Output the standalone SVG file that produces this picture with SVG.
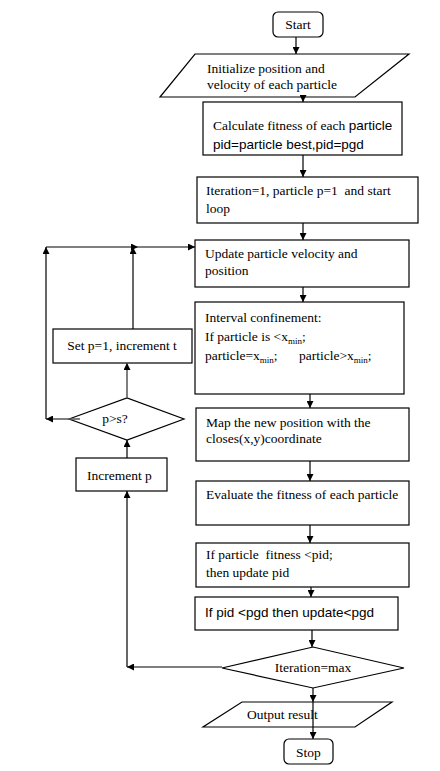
<svg xmlns="http://www.w3.org/2000/svg" width="440" height="771" viewBox="0 0 440 771">
<style>
.s{fill:#fff;stroke:#000;stroke-width:1.2}
.t{font-family:"Liberation Serif","Times New Roman",serif;font-size:13.5px;fill:#000}
.a{font-family:"Liberation Sans",Arial,sans-serif;font-size:13.5px;fill:#000}
.sub{font-size:9px}
.c{fill:none;stroke:#000;stroke-width:1.2}
.g{fill:none;stroke:#555;stroke-width:1.5}
</style>
<defs>
<marker id="ah" viewBox="0 0 10 10" refX="10" refY="5" markerWidth="8" markerHeight="7" markerUnits="userSpaceOnUse" orient="auto"><path d="M0,0 L10,5 L0,10 z" fill="#000"/></marker>
</defs>
<rect width="440" height="771" fill="#fff"/>
<g id="start"><rect class="s" x="273" y="12" width="50" height="25" rx="5"/><text class="t" x="298" y="29" text-anchor="middle">Start</text></g>
<g id="init"><polygon class="s" points="195,54 409,54 355,97 160,97"/><text class="t" x="207" y="73">Initialize position and</text><text class="t" x="207" y="89">velocity of each particle</text></g>
<g id="calc"><rect class="s" x="203" y="102" width="199" height="53"/><text class="t" x="213" y="130">Calculate fitness of each <tspan class="a" font-size="14px">particle</tspan></text><text class="a" x="213" y="149">pid=particle best,pid=pgd</text></g>
<g id="iter"><rect class="s" x="197" y="177" width="221" height="46"/><text class="t" x="206" y="195" xml:space="preserve">Iteration=1, particle p=1  and start</text><text class="t" x="206" y="213">loop</text></g>
<g id="update"><rect class="s" x="195" y="240" width="214" height="47"/><text class="t" x="205" y="258">Update particle velocity and</text><text class="t" x="205" y="275">position</text></g>
<g id="interval"><rect class="s" x="195" y="302" width="209" height="92"/><text class="t" x="205" y="322">Interval confinement:</text><text class="t" x="205" y="341">If particle is &lt;x<tspan class="sub" dy="3">min</tspan><tspan dy="-3">;</tspan></text><text class="t" x="205" y="360">particle=x<tspan class="sub" dy="3">min</tspan><tspan dy="-3">;</tspan></text><text class="t" x="299" y="360">particle&gt;x<tspan class="sub" dy="3">min</tspan><tspan dy="-3">;</tspan></text></g>
<g id="map"><rect class="s" x="196" y="408" width="213" height="53"/><text class="t" x="206" y="427">Map the new position with the</text><text class="t" x="206" y="443">closes(x,y)coordinate</text></g>
<g id="evaluate"><rect class="s" x="196" y="481" width="213" height="44"/><text class="t" x="206" y="499">Evaluate the fitness of each particle</text></g>
<g id="pid"><rect class="s" x="196" y="543" width="213" height="44"/><text class="t" x="206" y="559" xml:space="preserve">If particle  fitness &lt;pid;</text><text class="t" x="206" y="577">then update pid</text></g>
<g id="pgd"><rect class="s" x="195" y="597" width="203" height="33"/><text class="a" x="205" y="617">If pid &lt;pgd then update&lt;pgd</text></g>
<g id="itermax"><polygon class="s" points="222,668 313,647 404,668 313,688"/><text class="t" x="313" y="672" text-anchor="middle">Iteration=max</text></g>
<g id="output"><polygon class="s" points="242,702 392,702 355,727 203,727"/><text class="t" x="247" y="719">Output result</text></g>
<g id="stop"><rect class="s" x="284" y="739" width="49" height="25" rx="5"/><text class="t" x="308.5" y="757" text-anchor="middle">Stop</text></g>
<g id="setp"><rect class="s" x="53" y="329" width="139" height="34"/><text class="t" x="122" y="350" text-anchor="middle">Set p=1, increment t</text></g>
<g id="pgs"><polygon class="s" points="69,419 127,398 184,419 127,440"/><text class="t" x="115" y="423" text-anchor="middle">p&gt;s?</text></g>
<g id="incp"><rect class="s" x="76" y="458" width="91" height="33"/><text class="t" x="87" y="480">Increment p</text></g>
<g id="connectors">
<line class="c" x1="296" y1="37" x2="296" y2="54" marker-end="url(#ah)"/>
<line class="c" x1="303" y1="97" x2="303" y2="102" marker-end="url(#ah)"/>
<line class="c" x1="303" y1="155" x2="303" y2="177" marker-end="url(#ah)"/>
<line class="c" x1="303" y1="223" x2="303" y2="240" marker-end="url(#ah)"/>
<line class="c" x1="303" y1="287" x2="303" y2="302" marker-end="url(#ah)"/>
<line class="c" x1="310" y1="394" x2="310" y2="408" marker-end="url(#ah)"/>
<line class="c" x1="310" y1="461" x2="310" y2="481" marker-end="url(#ah)"/>
<line class="c" x1="310" y1="525" x2="310" y2="543" marker-end="url(#ah)"/>
<line class="c" x1="311" y1="587" x2="311" y2="597" marker-end="url(#ah)"/>
<line class="c" x1="312" y1="630" x2="312" y2="647" marker-end="url(#ah)"/>
<line class="c" x1="313" y1="688" x2="313" y2="702" marker-end="url(#ah)"/>
<line class="c" x1="313" y1="702" x2="313" y2="739" marker-end="url(#ah)"/>
<line class="c" x1="222" y1="667" x2="127" y2="667" marker-end="url(#ah)"/>
<line class="c" x1="127" y1="667" x2="127" y2="491" marker-end="url(#ah)"/>
<line class="c" x1="127" y1="458" x2="127" y2="440" marker-end="url(#ah)"/>
<line class="g" x1="127" y1="398" x2="127" y2="363" marker-end="url(#ah)"/>
<line class="c" x1="133" y1="329" x2="133" y2="247" marker-end="url(#ah)"/>
<line class="g" x1="80" y1="419" x2="46" y2="419" marker-end="url(#ah)"/>
<line class="c" x1="46" y1="419" x2="46" y2="247" marker-end="url(#ah)"/>
<polyline class="c" points="46,247 138,247 195,247" marker-mid="url(#ah)" marker-end="url(#ah)"/>
</g>
</svg>
